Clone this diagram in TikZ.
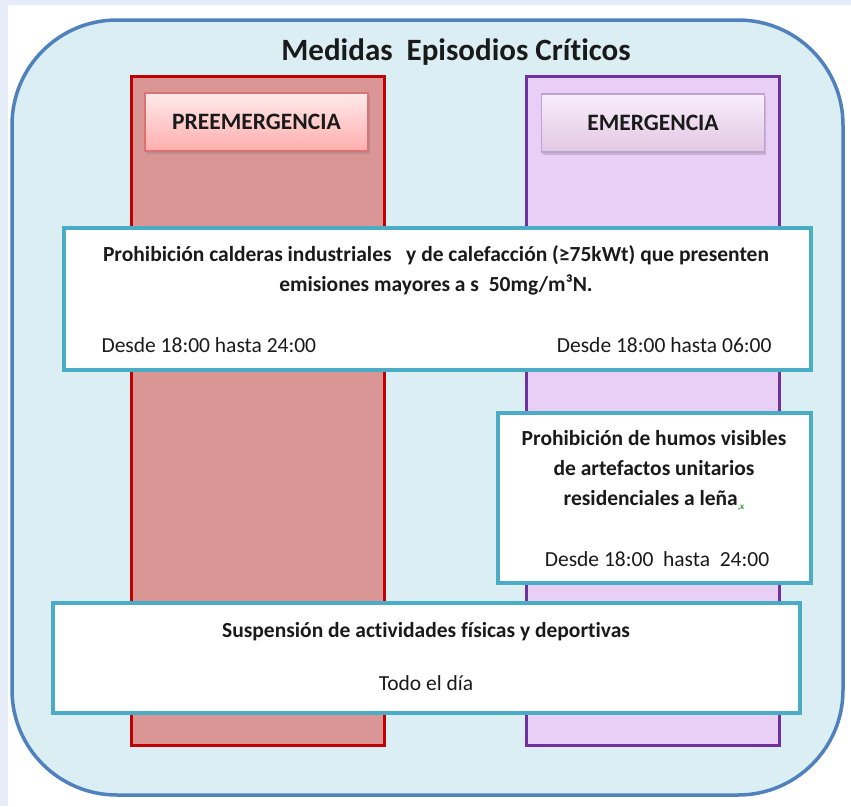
\documentclass[tikz,border=0pt]{standalone}
\usepackage{fontspec}
\setmainfont[Ligatures=NoCommon]{Carlito}
\usetikzlibrary{shadows,positioning}
\definecolor{fondo}{HTML}{E6ECF8}
\definecolor{marco}{HTML}{4F81BD}
\definecolor{relleno}{HTML}{DAEEF3}
\definecolor{preLinea}{HTML}{C00000}
\definecolor{preRelleno}{HTML}{D99694}
\definecolor{emLinea}{HTML}{7030A0}
\definecolor{emRelleno}{HTML}{E9CFF5}
\definecolor{medLinea}{HTML}{4BACC6}
\definecolor{texto}{HTML}{1A1A1A}
\definecolor{marca}{HTML}{3A9A3A}

\tikzset{
  medida/.style={draw=medLinea, line width=4.5pt, fill=white, inner sep=0pt},
  cabecera/.style={line width=1.2pt, minimum width=223pt, minimum height=58pt,
    drop shadow={shadow xshift=1.5pt, shadow yshift=-2.5pt, opacity=0.35},
    font=\fontsize{23.5}{26}\selectfont\bfseries, text=texto},
  negrita/.style={align=center, text=texto, font=\fontsize{21.5}{30}\selectfont\bfseries},
  normal/.style={text=texto, font=\fontsize{21.5}{24}\selectfont},
}

\begin{document}
\begin{tikzpicture}[x=1pt, y=-1pt]

  \fill[fondo] (0,0) rectangle (851,806);
  \fill[white] (8,5) rectangle (851,806);

  %% marco general
  \draw[marco, line width=3.5pt, fill=relleno, rounded corners=105pt] (12,20) rectangle (843,795);
  \node[text=texto, font=\fontsize{31}{34}\selectfont\bfseries] (titulo) at (456,52) {Medidas\ \ Episodios Críticos};

  %% columnas
  \draw[preLinea, line width=3pt, fill=preRelleno] (131,76) rectangle (384,745);
  \draw[emLinea, line width=3pt, fill=emRelleno] (526,76) rectangle (779,745);

  \node[cabecera, draw=preLinea!55, top color=red!8, bottom color=red!32] (preHead) at (256.5,122) {PREEMERGENCIA};
  \node[cabecera, draw=emLinea!45, top color=emRelleno!35, bottom color=violet!22] (emHead) at (653,123) {EMERGENCIA};

  %% calderas
  \node[medida, minimum width=747pt, minimum height=142pt] (calderas) at (437.5,299) {};
  \node[negrita] (calderasTxt) at (436,270) {Prohibición calderas industriales\ \ \ y de calefacción (≥75kWt) que presenten\\emisiones mayores a s\ \ 50mg/m³N.};
  \node[normal, anchor=base west] (preHora) at (98,352) {Desde 18:00 hasta 24:00};
  \node[normal, anchor=base east] (emHora) at (775,352) {Desde 18:00 hasta 06:00};

  %% humos
  \node[medida, minimum width=313pt, minimum height=170pt] (humos) at (654.5,498) {};
  \node[negrita] (humosTxt) at (654,471) {Prohibición de humos visibles\\de artefactos unitarios\\residenciales a leña\raisebox{-4pt}{\color{marca}\fontsize{9}{9}\selectfont ,x}};
  \node[normal] (humosHora) at (657,559) {Desde 18:00\ \ hasta\ \ 24:00};

  %% deporte
  \node[medida, minimum width=747pt, minimum height=110pt] (deporte) at (426.5,658) {};
  \node[negrita, font=\fontsize{21.5}{24}\selectfont\bfseries] (deporteTxt) at (426,632) {Suspensión de actividades físicas y deportivas};
  \node[normal] (deporteHora) at (426,683) {Todo el día};

\end{tikzpicture}
\end{document}
